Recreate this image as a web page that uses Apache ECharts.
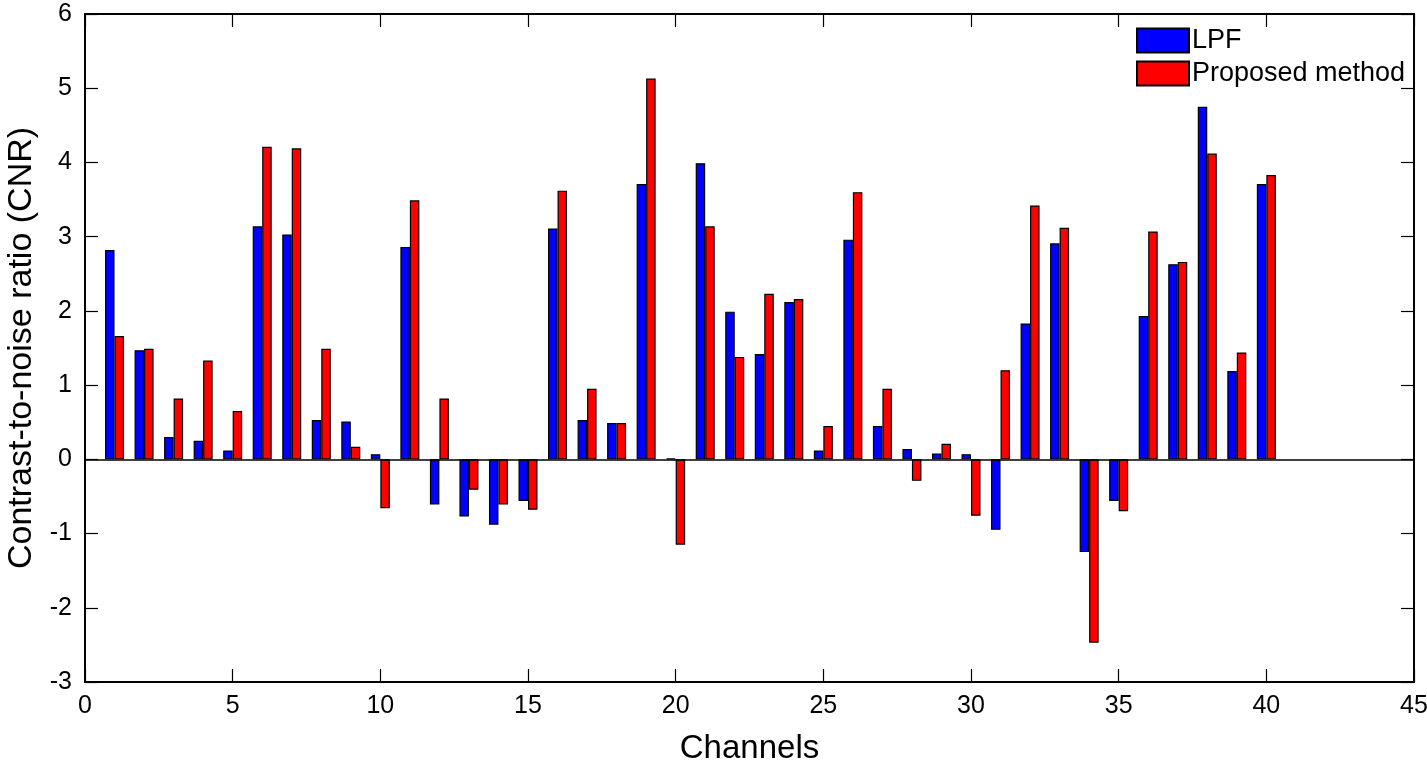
<!DOCTYPE html>
<html>
<head>
<meta charset="utf-8">
<script src="https://cdn.jsdelivr.net/npm/echarts@6/dist/echarts.min.js"></script>
<style>
html,body{margin:0;padding:0;background:#fff;}
#chart{width:1427px;height:774px;}
</style>
</head>
<body>
<div id="chart"></div>
<script>
const channels = [1,2,3,4,5,6,7,8,9,10,11,12,13,14,15,16,17,18,19,20,21,22,23,24,25,26,27,28,29,30,31,32,33,34,35,36,37,38,39,40];
const lpf = [2.82,1.47,0.30,0.25,0.12,3.14,3.03,0.53,0.51,0.07,2.86,-0.61,-0.77,-0.88,-0.56,3.11,0.53,0.49,3.71,0.01,3.99,1.99,1.42,2.12,0.12,2.96,0.45,0.14,0.08,0.07,-0.95,1.83,2.91,-1.25,-0.56,1.93,2.63,4.75,1.19,3.71];
const proposed = [1.66,1.49,0.82,1.33,0.65,4.21,4.19,1.49,0.17,-0.66,3.49,0.82,-0.41,-0.61,-0.68,3.62,0.95,0.49,5.13,-1.15,3.14,1.38,2.23,2.16,0.45,3.60,0.95,-0.29,0.21,-0.76,1.20,3.42,3.12,-2.47,-0.70,3.07,2.66,4.12,1.44,3.83];
const seriesNames = ['LPF','Proposed method'];
const xTicks = {min:0, max:45, interval:5};
const yTicks = {min:-3, max:6, interval:1};

const font = "'Liberation Sans', Arial, sans-serif";
const chart = echarts.init(document.getElementById('chart'));
const axisLine = {show:true, onZero:false, lineStyle:{color:'#000', width:2}};
const axisTick = {show:true, inside:true, length:13, lineStyle:{color:'#000', width:1.2}};
const pairs = (vals) => channels.map((c,i)=>[c, vals[i]]);
chart.setOption({
  animation:false,
  backgroundColor:'#fff',
  grid:{left:85, right:13, top:14, bottom:92, containLabel:false, outerBoundsMode:'none'},
  legend:{
    orient:'vertical', left:1136, top:27, padding:0, itemWidth:52, itemHeight:24, itemGap:6,
    icon:'rect',
    data:seriesNames,
    textStyle:{fontFamily:font, fontSize:27, color:'#000', padding:[0,0,0,-2]}
  },
  xAxis:[{
    type:'value', min:xTicks.min, max:xTicks.max, interval:xTicks.interval,
    name:'Channels', nameLocation:'middle', nameGap:50,
    nameTextStyle:{fontFamily:font, fontSize:33, color:'#000'},
    axisLine:axisLine, axisTick:axisTick, splitLine:{show:false},
    axisLabel:{fontFamily:font, fontSize:25, color:'#000', margin:12}
  },{
    type:'value', position:'top', min:xTicks.min, max:xTicks.max, interval:xTicks.interval,
    axisLine:axisLine, axisTick:axisTick, splitLine:{show:false}, axisLabel:{show:false}
  }],
  yAxis:[{
    type:'value', min:yTicks.min, max:yTicks.max, interval:yTicks.interval,
    name:'Contrast-to-noise ratio (CNR)', nameLocation:'middle', nameGap:46,
    nameTextStyle:{fontFamily:font, fontSize:34, color:'#000'},
    axisLine:axisLine, axisTick:axisTick, splitLine:{show:false},
    axisLabel:{fontFamily:font, fontSize:25, color:'#000', margin:13}
  },{
    type:'value', position:'right', min:yTicks.min, max:yTicks.max, interval:yTicks.interval,
    axisLine:axisLine, axisTick:axisTick, splitLine:{show:false}, axisLabel:{show:false}
  }],
  series:[{
    name:seriesNames[0], type:'bar', data:pairs(lpf), barWidth:9.5, barGap:'0%',
    itemStyle:{color:'#0000ff', borderColor:'#000', borderWidth:1.2},
    markLine:{silent:true, symbol:'none', label:{show:false},
      lineStyle:{color:'#000', width:1.5, type:'solid'}, data:[{yAxis:0}]},
    z:3
  },{
    name:seriesNames[1], type:'bar', data:pairs(proposed), barWidth:9.5, barGap:'0%',
    itemStyle:{color:'#ff0000', borderColor:'#000', borderWidth:1.2},
    z:3
  }]
});
</script>
</body>
</html>
